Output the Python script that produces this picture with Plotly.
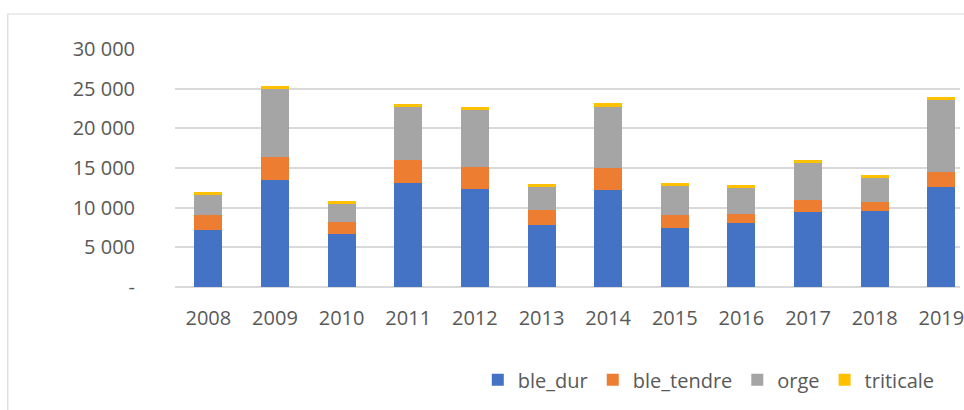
import plotly.graph_objects as go

years = ["2008", "2009", "2010", "2011", "2012", "2013", "2014", "2015", "2016", "2017", "2018", "2019"]
ble_dur = [7160, 13510, 6690, 13090, 12335, 7790, 12250, 7450, 8040, 9470, 9560, 12590]
ble_tendre = [1890, 2870, 1480, 2940, 2780, 1895, 2740, 1600, 1140, 1475, 1135, 1890]
orge = [2525, 8585, 2310, 6780, 7235, 2905, 7700, 3700, 3320, 4800, 3160, 9130]
triticale = [380, 380, 340, 250, 340, 380, 505, 340, 340, 250, 250, 340]

y_tickvals = [0, 5000, 10000, 15000, 20000, 25000, 30000]
y_ticktext = ["-", "5 000", "10 000", "15 000", "20 000", "25 000", "30 000"]

series = [
    ("ble_dur", ble_dur, "#4472C4"),
    ("ble_tendre", ble_tendre, "#ED7D31"),
    ("orge", orge, "#A5A5A5"),
    ("triticale", triticale, "#FFC000"),
]

fig = go.Figure()
for name, vals, col in series:
    fig.add_trace(go.Bar(x=years, y=vals, name=name, marker=dict(color=col, line=dict(width=0)), width=0.42))

font = dict(family="Open Sans, Liberation Sans, sans-serif", size=20, color="#595959")

fig.update_layout(
    barmode="stack",
    width=964, height=410,
    margin=dict(l=175, r=0, t=49, b=123),
    paper_bgcolor="white", plot_bgcolor="white",
    font=font,
    showlegend=True,
    legend=dict(orientation="h", x=0.68, xanchor="center", y=-0.39, yanchor="middle",
                font=font, traceorder="normal", itemwidth=30),
    xaxis=dict(type="category", range=[-0.5, 11.28], showgrid=False, showline=False,
               ticks="", ticklabelstandoff=17, tickfont=font),
    yaxis=dict(range=[0, 30000], tickvals=y_tickvals, ticktext=y_ticktext,
               showgrid=True, gridcolor="#D9D9D9", gridwidth=1.5, zeroline=True,
               zerolinecolor="#D9D9D9", zerolinewidth=1.5, showline=False,
               ticks="", ticklabelstandoff=39, tickfont=font),
    shapes=[dict(type="rect", xref="paper", yref="paper", x0=-0.213, x1=1.2, y0=-1.0, y1=1.147,
                 line=dict(color="#D9D9D9", width=1.2), fillcolor="rgba(0,0,0,0)", layer="below")],
)

fig.write_html("out.html", config={"displayModeBar": False},
               post_script="document.body.style.margin='0';document.body.style.overflow='hidden';")
